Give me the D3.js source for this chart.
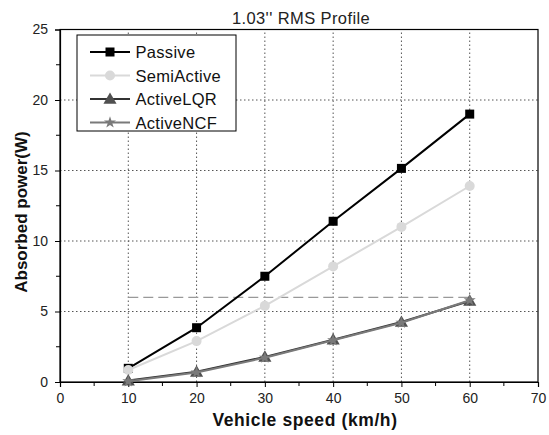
<!DOCTYPE html>
<html>
<head>
<meta charset="utf-8">
<script src="https://cdn.jsdelivr.net/npm/d3@7"></script>
<style>
  body { margin: 0; background: #fff; }
  text { font-family: Arial, "Liberation Sans", sans-serif; }
</style>
</head>
<body>
<div id="chart"></div>
<script>
const speeds = [10, 20, 30, 40, 50, 60];
const passive = [0.97, 3.85, 7.5, 11.4, 15.15, 19.0];
const semiActive = [0.85, 2.9, 5.4, 8.2, 11.0, 13.9];
const activeLQR = [0.1, 0.72, 1.78, 3.0, 4.25, 5.75];
const activeNCF = [0.05, 0.68, 1.72, 2.96, 4.2, 5.8];
const limitLevel = 6;
const xTicks = [0, 10, 20, 30, 40, 50, 60, 70];
const yTicks = [0, 5, 10, 15, 20, 25];

const series = [
  { name: "Passive", values: passive, color: "#000", mark: "square", markColor: "#000" },
  { name: "SemiActive", values: semiActive, color: "#d9d9d9", mark: "circle", markColor: "#d9d9d9" },
  { name: "ActiveLQR", values: activeLQR, color: "#333", mark: "triangle", markColor: "#505050" },
  { name: "ActiveNCF", values: activeNCF, color: "#7a7a7a", mark: "star", markColor: "#7a7a7a" }
];

const width = 549, height = 435;
const margin = { top: 29.5, right: 11, bottom: 53, left: 60 };

const svg = d3.select("#chart").append("svg")
  .attr("width", width).attr("height", height);

const x = d3.scaleLinear().domain([0, 70]).range([margin.left, width - margin.right]);
const y = d3.scaleLinear().domain([0, 25]).range([height - margin.bottom, margin.top]);

// grid
svg.append("g").selectAll("line.vg")
  .data(xTicks.slice(1, -1)).enter().append("line")
  .attr("x1", d => x(d)).attr("x2", d => x(d))
  .attr("y1", y(0)).attr("y2", y(25))
  .attr("stroke", "#555").attr("stroke-width", 1).attr("stroke-dasharray", "1.5,2.5");
svg.append("g").selectAll("line.hg")
  .data(yTicks.slice(1, -1)).enter().append("line")
  .attr("y1", d => y(d)).attr("y2", d => y(d))
  .attr("x1", x(0)).attr("x2", x(70))
  .attr("stroke", "#555").attr("stroke-width", 1).attr("stroke-dasharray", "1.5,2.5");

// axes
const xAxis = d3.axisBottom(x).tickValues(xTicks).tickSize(5).tickPadding(6);
const gx = svg.append("g").attr("transform", `translate(0,${y(0)})`).call(xAxis);
gx.selectAll("text").attr("font-size", 14).attr("fill", "#222");
gx.append("g").selectAll("line")
  .data(d3.range(5, 70, 10)).enter().append("line")
  .attr("x1", d => x(d)).attr("x2", d => x(d)).attr("y1", 0).attr("y2", 4)
  .attr("stroke", "#000");

const yAxis = d3.axisLeft(y).tickValues(yTicks).tickSize(5).tickPadding(7);
const gy = svg.append("g").attr("transform", `translate(${x(0)},0)`).call(yAxis);
gy.selectAll("text").attr("font-size", 14).attr("fill", "#222");
gy.append("g").selectAll("line")
  .data(d3.range(2.5, 25, 5)).enter().append("line")
  .attr("y1", d => y(d)).attr("y2", d => y(d)).attr("x1", 0).attr("x2", -4)
  .attr("stroke", "#000");

[gx, gy].forEach(g => g.select(".domain").attr("stroke", "#000").attr("stroke-width", 1.2));

// frame
svg.append("rect")
  .attr("x", x(0)).attr("y", y(25))
  .attr("width", x(70) - x(0)).attr("height", y(0) - y(25))
  .attr("fill", "none").attr("stroke", "#000").attr("stroke-width", 1.2);

// dashed reference line
svg.append("line")
  .attr("x1", x(10)).attr("x2", x(60))
  .attr("y1", y(limitLevel)).attr("y2", y(limitLevel))
  .attr("stroke", "#999").attr("stroke-width", 1.3).attr("stroke-dasharray", "10,5");

const line = d3.line().x((d, i) => x(speeds[i])).y(d => y(d));

function drawMark(g, type, cx, cy, color) {
  if (type === "square") {
    g.append("rect").attr("x", cx - 4.5).attr("y", cy - 4.5).attr("width", 9).attr("height", 9)
      .attr("fill", color);
  } else if (type === "circle") {
    g.append("circle").attr("cx", cx).attr("cy", cy).attr("r", 5).attr("fill", color);
  } else if (type === "triangle") {
    g.append("path").attr("d", d3.symbol(d3.symbolTriangle, 75)())
      .attr("transform", `translate(${cx},${cy + 1})`).attr("fill", color);
  } else {
    g.append("path").attr("d", d3.symbol(d3.symbolStar, 45)())
      .attr("transform", `translate(${cx},${cy})`).attr("fill", color);
  }
}

series.forEach(s => {
  const g = svg.append("g");
  g.append("path").datum(s.values)
    .attr("d", line).attr("fill", "none")
    .attr("stroke", s.color).attr("stroke-width", 2);
  s.values.forEach((v, i) => drawMark(g, s.mark, x(speeds[i]), y(v), s.markColor));
});

// legend
const lg = svg.append("g");
lg.append("rect").attr("x", 77).attr("y", 35).attr("width", 159).attr("height", 96)
  .attr("fill", "#fff").attr("stroke", "#000").attr("stroke-width", 1);
series.forEach((s, i) => {
  const ly = 52 + i * 23.5;
  lg.append("line").attr("x1", 90).attr("x2", 130).attr("y1", ly).attr("y2", ly)
    .attr("stroke", s.color).attr("stroke-width", 2);
  drawMark(lg, s.mark, 110, ly, s.markColor);
  lg.append("text").attr("x", 135.5).attr("y", ly + 6)
    .attr("font-size", 16.5).attr("letter-spacing", 0.3).attr("fill", "#111").text(s.name);
});

// titles
svg.append("text").attr("x", 301).attr("y", 23.5).attr("text-anchor", "middle")
  .attr("font-size", 16.5).attr("letter-spacing", 0.4).attr("fill", "#222").text("1.03'' RMS Profile");
svg.append("text").attr("x", 305).attr("y", 426).attr("text-anchor", "middle")
  .attr("font-size", 17.5).attr("letter-spacing", 0.6).attr("font-weight", "bold").attr("fill", "#111")
  .text("Vehicle speed (km/h)");
svg.append("text").attr("transform", `translate(27,212) rotate(-90)`)
  .attr("text-anchor", "middle")
  .attr("font-size", 17).attr("font-weight", "bold").attr("fill", "#111").text("Absorbed power(W)");
</script>
</body>
</html>
